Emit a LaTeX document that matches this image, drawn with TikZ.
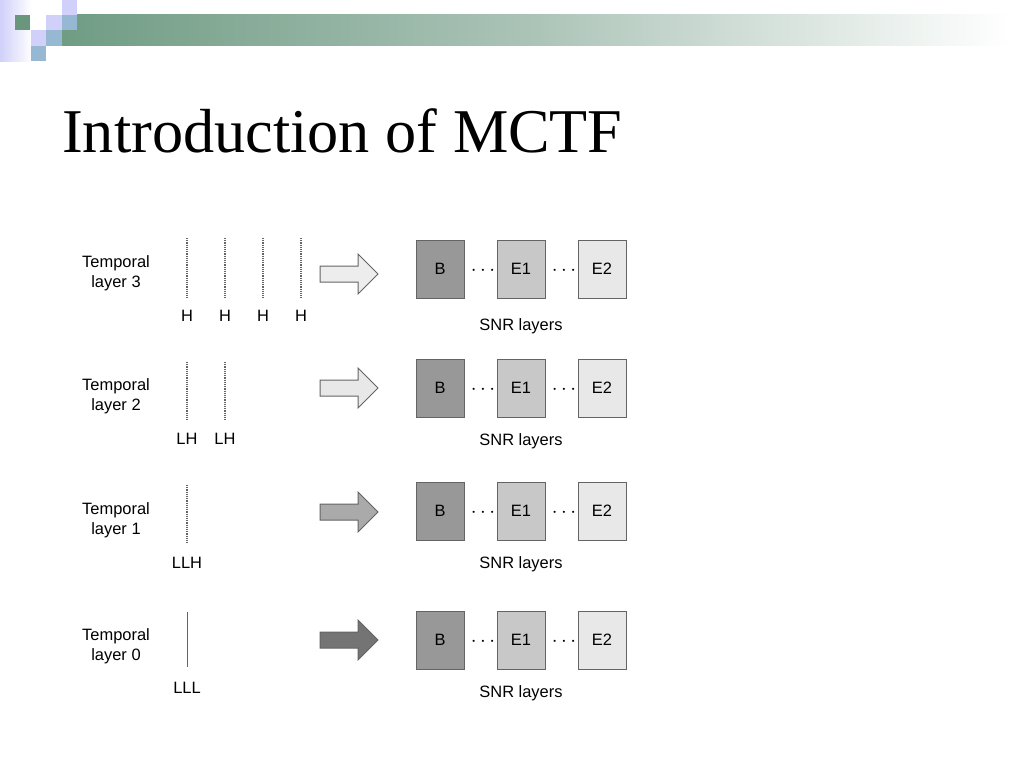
\documentclass[tikz,border=0pt]{standalone}
\usepackage{fontspec}
\setmainfont{Liberation Sans}
\newfontfamily\titlefont{Liberation Serif}
\usetikzlibrary{shapes.arrows}
\definecolor{barGreen}{RGB}{112,156,132}
\definecolor{barMid}{RGB}{172,196,184}
\definecolor{lavender}{RGB}{208,208,250}
\definecolor{blueGray}{RGB}{150,184,210}
\definecolor{sqGreen}{RGB}{106,150,126}
\definecolor{boxLine}{RGB}{100,100,100}
\definecolor{baseFill}{RGB}{152,152,152}
\definecolor{enhOneFill}{RGB}{200,200,200}
\definecolor{enhTwoFill}{RGB}{232,232,232}
\tikzset{
  smallfont/.style={font=\fontsize{16.5}{20}\selectfont},
  temporal/.style={smallfont, align=center},
  bandlabel/.style={smallfont},
  snrbox/.style={draw=boxLine, line width=1bp, minimum width=48bp, minimum height=58bp, inner sep=0pt, smallfont},
  dotsep/.style={font=\fontsize{22}{24}\selectfont, inner sep=0pt},
  layerarrow/.style={single arrow, draw=boxLine, line width=1bp, minimum height=58bp, inner xsep=0pt, inner ysep=7.5bp, single arrow head extend=12bp, single arrow head indent=0pt},
  dotline/.style={draw=boxLine, densely dotted, line width=1.2bp},
  solidline/.style={draw=boxLine, line width=1bp},
}

\begin{document}
\begin{tikzpicture}[x=1bp,y=-1bp]
\useasboundingbox (0,0) rectangle (1024,768);
\shade[left color=lavender, right color=white] (0,0) rectangle (32,62);
\shade[left color=barGreen, right color=white, middle color=barMid] (62,15) rectangle (1010,46);
\fill[sqGreen] (15,15) rectangle (30,30);
\fill[lavender] (62,0) rectangle (77,15);
\fill[lavender] (46,15) rectangle (62,30);
\fill[blueGray] (62,15) rectangle (77,30);
\fill[lavender] (31,30) rectangle (46,46);
\fill[blueGray] (46,30) rectangle (62,46);
\fill[blueGray] (31,46) rectangle (46,61);
\node[anchor=base west, font=\titlefont\fontsize{62.5}{70}\selectfont, inner sep=0pt] (title) at (62,152) {Introduction of MCTF};

\node[temporal] (tl3) at (116,273) {Temporal\\layer 3};
\coordinate (h1t) at (187,238); \coordinate (h1b) at (187,298);
\coordinate (h2t) at (225,238); \coordinate (h2b) at (225,298);
\coordinate (h3t) at (263,238); \coordinate (h3b) at (263,298);
\coordinate (h4t) at (301,238); \coordinate (h4b) at (301,298);
\draw[dotline] (h1t) -- (h1b);
\draw[dotline] (h2t) -- (h2b);
\draw[dotline] (h3t) -- (h3b);
\draw[dotline] (h4t) -- (h4b);
\node[bandlabel] (h1) at (187,316) {H};
\node[bandlabel] (h2) at (225,316) {H};
\node[bandlabel] (h3) at (263,316) {H};
\node[bandlabel] (h4) at (301,316) {H};
\node[layerarrow, fill=enhTwoFill!80!white] (arr3) at (345,274) {};
\node[snrbox, fill=baseFill] (b3) at (440,269) {B};
\node[snrbox, fill=enhOneFill] (ea3) at (521,269) {E1};
\node[snrbox, fill=enhTwoFill] (eb3) at (602,269) {E2};
\node[dotsep] (da3) at (483,271) {$\cdots$};
\node[dotsep] (db3) at (564,271) {$\cdots$};
\node[bandlabel] (snr3) at (521,326) {SNR layers};

\node[temporal] (tl2) at (116,396) {Temporal\\layer 2};
\coordinate (lh1t) at (187,362); \coordinate (lh1b) at (187,420);
\coordinate (lh2t) at (225,362); \coordinate (lh2b) at (225,420);
\draw[dotline] (lh1t) -- (lh1b);
\draw[dotline] (lh2t) -- (lh2b);
\node[bandlabel] (lh1) at (187,439) {LH};
\node[bandlabel] (lh2) at (225,439) {LH};
\node[layerarrow, fill=enhTwoFill] (arr2) at (345,388) {};
\node[snrbox, fill=baseFill] (b2) at (440,388) {B};
\node[snrbox, fill=enhOneFill] (ea2) at (521,388) {E1};
\node[snrbox, fill=enhTwoFill] (eb2) at (602,388) {E2};
\node[dotsep] (da2) at (483,390) {$\cdots$};
\node[dotsep] (db2) at (564,390) {$\cdots$};
\node[bandlabel] (snr2) at (521,441) {SNR layers};

\node[temporal] (tl1) at (116,520) {Temporal\\layer 1};
\coordinate (llht) at (187,485); \coordinate (llhb) at (187,543);
\draw[dotline] (llht) -- (llhb);
\node[bandlabel] (llh) at (187,563) {LLH};
\node[layerarrow, fill=enhOneFill!85!black] (arr1) at (345,512) {};
\node[snrbox, fill=baseFill] (b1) at (440,511) {B};
\node[snrbox, fill=enhOneFill] (ea1) at (521,511) {E1};
\node[snrbox, fill=enhTwoFill] (eb1) at (602,511) {E2};
\node[dotsep] (da1) at (483,513) {$\cdots$};
\node[dotsep] (db1) at (564,513) {$\cdots$};
\node[bandlabel] (snr1) at (521,564) {SNR layers};

\node[temporal] (tl0) at (116,646) {Temporal\\layer 0};
\coordinate (lllt) at (187,612); \coordinate (lllb) at (187,667);
\draw[solidline] (lllt) -- (lllb);
\node[bandlabel] (lll) at (187,688) {LLL};
\node[layerarrow, fill=boxLine!90!white] (arr0) at (345,640) {};
\node[snrbox, fill=baseFill] (b0) at (440,640) {B};
\node[snrbox, fill=enhOneFill] (ea0) at (521,640) {E1};
\node[snrbox, fill=enhTwoFill] (eb0) at (602,640) {E2};
\node[dotsep] (da0) at (483,642) {$\cdots$};
\node[dotsep] (db0) at (564,642) {$\cdots$};
\node[bandlabel] (snr0) at (521,693) {SNR layers};
\end{tikzpicture}
\end{document}
